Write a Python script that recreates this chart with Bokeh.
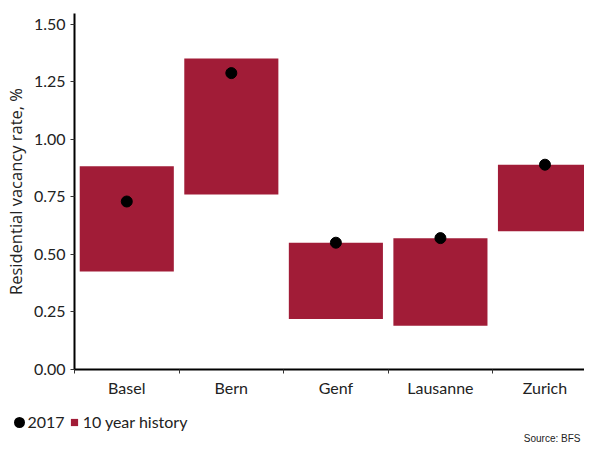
from bokeh.plotting import figure
from bokeh.layouts import column, row
from bokeh.models import (Range1d, FixedTicker, Legend, LegendItem, Label,
                          NumeralTickFormatter, ColumnDataSource)
from bokeh.embed import file_html
from bokeh.resources import INLINE

cities = ["Basel", "Bern", "Genf", "Lausanne", "Zurich"]
history_low = [0.426, 0.760, 0.219, 0.190, 0.601]
history_high = [0.883, 1.351, 0.551, 0.570, 0.890]
vacancy_2017 = [0.730, 1.288, 0.551, 0.571, 0.890]
y_ticks = [0, 0.25, 0.5, 0.75, 1.0, 1.25, 1.5]

BAR = "#A11C37"
TXT = "#222222"
FONT = "Lato"

pos = [i + 0.5 for i in range(len(cities))]
bounds = [float(i) for i in range(len(cities) + 1)]
src = ColumnDataSource(dict(x=pos, low=history_low, high=history_high,
                            v=vacancy_2017, city=cities))

W = 584
p = figure(width=W, height=400, output_backend="svg", toolbar_location=None,
           x_range=Range1d(0, 4.878), y_range=Range1d(0, 1.547),
           min_border_left=73, min_border_right=0, min_border_top=13,
           min_border_bottom=31)
p.outline_line_color = None
p.xgrid.visible = False
p.ygrid.visible = False

bars = p.vbar(x="x", width=0.9, bottom="low", top="high", source=src,
              fill_color=BAR, line_color=None)
dots = p.scatter(x="x", y="v", size=11, color="black", source=src)

# x axis
xa = p.xaxis[0]
xa.ticker = FixedTicker(ticks=pos, minor_ticks=bounds)
xa.major_label_overrides = {x: c for x, c in zip(pos, cities)}
xa.major_tick_line_color = None
xa.minor_tick_line_color = "#333333"
xa.minor_tick_out = 4
xa.minor_tick_in = 0
xa.axis_line_width = 2
xa.axis_line_color = "black"
xa.major_label_text_font = FONT
xa.major_label_text_font_size = "16px"
xa.major_label_text_color = TXT
xa.major_label_standoff = 2

# y axis
ya = p.yaxis[0]
ya.ticker = FixedTicker(ticks=y_ticks, minor_ticks=[])
ya.formatter = NumeralTickFormatter(format="0.00")
ya.major_tick_out = 4
ya.major_tick_in = 0
ya.major_tick_line_color = "#333333"
ya.axis_line_width = 2
ya.axis_line_color = "black"
ya.major_label_text_font = FONT
ya.major_label_text_font_size = "16px"
ya.major_label_text_color = TXT
ya.major_label_standoff = 5
ya.axis_label = "Residential vacancy rate, %"
ya.axis_label_text_font = "Open Sans"
ya.axis_label_text_font_size = "16.5px"
ya.axis_label_text_font_style = "normal"
ya.axis_label_text_color = TXT
ya.axis_label_standoff = 4

# footer: legend + source (keys drawn from the real data, outside the view)
f = figure(width=W, height=43, output_backend="svg", toolbar_location=None,
           x_range=Range1d(0, 1), y_range=Range1d(10, 11),
           x_axis_location=None, y_axis_location=None,
           min_border_left=0, min_border_right=0, min_border_top=0,
           min_border_bottom=0)
f.outline_line_color = None
f.xgrid.visible = False
f.ygrid.visible = False
dot_key = f.scatter(x="x", y="v", source=src, marker="circle", size=7.2,
                    fill_color="black", line_color="black", line_width=3.8)
sq_key = f.scatter(x="x", y="low", source=src, marker="square", size=7.2,
                   fill_color=BAR, line_color=None)

legend = Legend(items=[LegendItem(label="2017", renderers=[dot_key]),
                       LegendItem(label="10 year history", renderers=[sq_key])],
                location=(9.5, 12), orientation="horizontal",
                glyph_width=18, glyph_height=18, label_height=18,
                label_standoff=0, padding=0, margin=0, spacing=0,
                border_line_color=None, background_fill_alpha=0,
                label_text_font=FONT, label_text_font_size="16px",
                label_text_color=TXT)
f.add_layout(legend)

f.add_layout(Label(x=580, y=5, x_units="screen", y_units="screen",
                   text="Source: BFS", text_font="Liberation Sans",
                   text_font_size="10px", text_color=TXT,
                   text_align="right", text_baseline="middle"))

open("out.html", "w").write(file_html(column(row(p), row(f)), INLINE))
